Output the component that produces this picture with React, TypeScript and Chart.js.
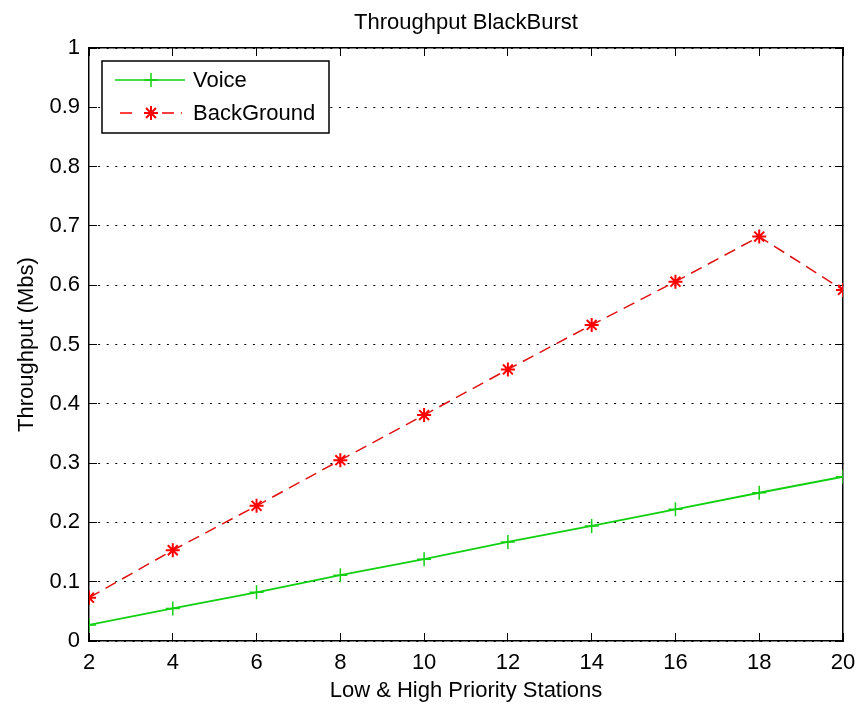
import React, { useEffect, useRef } from "react";
import { Chart, registerables } from "chart.js";

Chart.register(...registerables);

const stations = [2, 4, 6, 8, 10, 12, 14, 16, 18, 20];
const voice = [0.027, 0.055, 0.082, 0.111, 0.138, 0.167, 0.194, 0.222, 0.25, 0.277];
const background = [0.073, 0.153, 0.228, 0.305, 0.381, 0.458, 0.533, 0.606, 0.682, 0.592];
const seriesNames = ["Voice", "BackGround"];
const chartTitle = "Throughput BlackBurst";
const xTitle = "Low & High Priority Stations";
const yTitle = "Throughput (Mbs)";

const GREEN = "#10d010";
const RED = "#ff0000";
const FONT = "'Liberation Sans', Arial, sans-serif";

const legendPlugin = {
  id: "boxLegend",
  afterDraw(chart: any) {
    const { ctx, chartArea } = chart;
    const x0 = chartArea.left + 13;
    const y0 = chartArea.top + 13;
    const w = 227;
    const h = 72;
    ctx.save();
    ctx.fillStyle = "#fff";
    ctx.fillRect(x0, y0, w, h);
    ctx.strokeStyle = "#000";
    ctx.lineWidth = 1.5;
    ctx.strokeRect(x0, y0, w, h);
    const rows = [
      { y: y0 + 19, color: GREEN, dash: [] as number[], style: "cross" },
      { y: y0 + 52, color: RED, dash: [12, 7], style: "star" },
    ];
    rows.forEach((r, i) => {
      ctx.strokeStyle = r.color;
      ctx.lineWidth = 1.5;
      ctx.setLineDash(r.dash);
      ctx.beginPath();
      if (r.dash.length) {
        ctx.moveTo(x0 + 18, r.y);
        ctx.lineTo(x0 + 36, r.y);
        ctx.moveTo(x0 + 60, r.y);
        ctx.lineTo(x0 + 80, r.y);
      } else {
        ctx.moveTo(x0 + 13, r.y);
        ctx.lineTo(x0 + 83, r.y);
      }
      ctx.stroke();
      ctx.setLineDash([]);
      const mx = x0 + 49;
      const rad = 7;
      ctx.lineWidth = r.style === "star" ? 2 : 1.5;
      ctx.beginPath();
      ctx.moveTo(mx - rad, r.y);
      ctx.lineTo(mx + rad, r.y);
      ctx.moveTo(mx, r.y - rad);
      ctx.lineTo(mx, r.y + rad);
      if (r.style === "star") {
        const d = rad * 0.7071;
        ctx.moveTo(mx - d, r.y - d);
        ctx.lineTo(mx + d, r.y + d);
        ctx.moveTo(mx - d, r.y + d);
        ctx.lineTo(mx + d, r.y - d);
      }
      ctx.stroke();
      ctx.fillStyle = "#000";
      ctx.font = `22px ${FONT}`;
      ctx.textBaseline = "middle";
      ctx.textAlign = "left";
      ctx.fillText(seriesNames[i], x0 + 91, r.y + 1);
    });
    ctx.restore();
  },
};

export default function App() {
  const ref = useRef<HTMLCanvasElement>(null);
  useEffect(() => {
    document.body.style.margin = "0";
    Chart.defaults.font.family = FONT;
    Chart.defaults.font.size = 22;
    Chart.defaults.color = "#000";
    const ctx = ref.current!;
    const mk = (arr: number[]) => stations.map((x, i) => ({ x, y: arr[i] }));
    const inwardGrid = (onChart: boolean) => ({
      drawOnChartArea: onChart,
      color: "#000",
      lineWidth: 1,
      tickLength: -8,
      tickColor: "#000",
      tickWidth: 1,
      tickBorderDash: [],
    });
    const noPad = (s: any) => {
      s.paddingLeft = 0;
      s.paddingRight = 0;
      s.paddingTop = 0;
      s.paddingBottom = 0;
    };
    const chart = new Chart(ctx, {
      type: "line",
      data: {
        datasets: [
          {
            label: seriesNames[0],
            data: mk(voice),
            borderColor: GREEN,
            backgroundColor: GREEN,
            borderWidth: 1.8,
            pointStyle: "cross",
            pointRadius: 7,
            pointBorderWidth: 1.5,
            pointBorderColor: GREEN,
            fill: false,
          },
          {
            label: seriesNames[1],
            data: mk(background),
            borderColor: "#e01010",
            backgroundColor: RED,
            borderWidth: 1.5,
            borderDash: [12, 7],
            pointStyle: "star",
            pointRadius: 7,
            pointBorderWidth: 2,
            pointBorderColor: RED,
            fill: false,
          },
        ],
      },
      options: {
        animation: false,
        responsive: false,
        layout: { padding: 0 },
        plugins: {
          legend: { display: false },
          title: { display: false },
          tooltip: { enabled: false },
        },
        scales: {
          x: {
            type: "linear",
            position: "bottom",
            min: 2,
            max: 20,
            ticks: { stepSize: 2, padding: 17, maxRotation: 0 },
            grid: inwardGrid(false),
            border: { color: "#000", width: 1.5 },
            title: { display: true, text: xTitle, padding: { top: 4, bottom: 3 } },
            afterFit: (s: any) => {
              s.height = 66;
              noPad(s);
            },
          },
          x2: {
            type: "linear",
            position: "top",
            min: 2,
            max: 20,
            ticks: { stepSize: 2, display: false },
            grid: inwardGrid(false),
            border: { color: "#000", width: 1.5 },
            title: { display: true, text: chartTitle, padding: { top: 10, bottom: 0 } },
            afterFit: (s: any) => {
              s.height = 48;
              noPad(s);
            },
          },
          y: {
            type: "linear",
            position: "left",
            min: 0,
            max: 1,
            ticks: {
              stepSize: 0.1,
              padding: 17,
              callback: (v: any) => String(Math.round(Number(v) * 10) / 10),
            },
            grid: inwardGrid(true),
            border: { color: "#000", width: 1.5, dash: [2, 6.6] },
            title: { display: true, text: yTitle, padding: { top: 14, bottom: 0 } },
            afterFit: (s: any) => {
              s.width = 89;
              noPad(s);
            },
          },
          y2: {
            type: "linear",
            position: "right",
            min: 0,
            max: 1,
            ticks: { stepSize: 0.1, display: false },
            grid: inwardGrid(false),
            border: { color: "#000", width: 1.5 },
            afterFit: (s: any) => {
              s.width = 16;
              noPad(s);
            },
          },
        },
      },
      plugins: [legendPlugin],
    } as any);
    return () => chart.destroy();
  }, []);
  return <canvas ref={ref} width={859} height={707} style={{ display: "block" }} />;
}
